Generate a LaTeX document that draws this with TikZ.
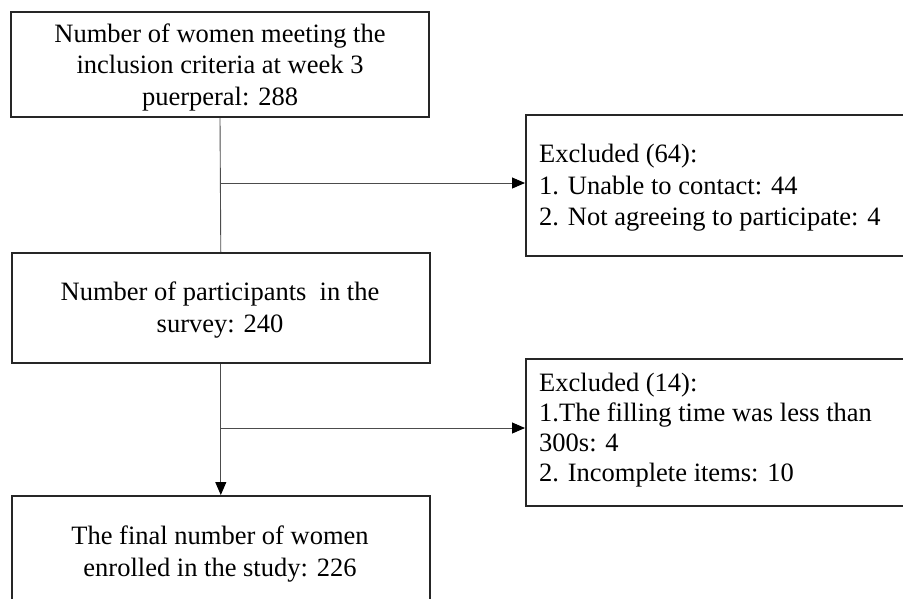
\documentclass[tikz,border=0pt]{standalone}
\usepackage{fontspec}
\setmainfont{Liberation Serif}
\usetikzlibrary{arrows.meta}
\begin{document}
\begin{tikzpicture}[x=1pt,y=-1pt,
  box/.style={draw=black!85,line width=1.6pt,rectangle,inner sep=0pt},
  txt/.style={inner sep=0pt,font=\fontsize{26.5}{31.5}\selectfont},
  conn/.style={draw=black!70,line width=0.9pt},
  arr/.style={conn,-{Triangle[length=13pt,width=11pt,fill=black,color=black]}}]
\useasboundingbox (0,0) rectangle (903,598);
% boxes
\node[box,minimum width=418pt,minimum height=105pt] (b1) at (220,64.5) {};
\node[box,minimum width=405pt,minimum height=141pt,anchor=north west] (b2) at (525,114) {};
\node[box,minimum width=418pt,minimum height=110pt,anchor=north west] (b3) at (11,252) {};
\node[box,minimum width=405pt,minimum height=147pt,anchor=north west] (b4) at (525,358) {};
\node[box,minimum width=418pt,minimum height=145pt,anchor=north west] (b5) at (11,495) {};
% texts
\node[txt,align=center] (t1) at (220,67) {Number of women meeting the\\inclusion criteria at week 3\\puerperal: 288};
\node[txt,align=center] (t3) at (220,310) {Number of participants \ in the\\survey: 240};
\node[txt,align=center] (t5) at (220,554) {The final number of women\\enrolled in the study: 226};
\node[txt,align=left,anchor=west] (t2) at (539,188) {Excluded (64):\\1. Unable to contact: 44\\2. Not agreeing to participate: 4};
\node[txt,align=left,anchor=west,font=\fontsize{26.5}{30}\selectfont] (t4) at (539,430) {Excluded (14):\\1.The filling time was less than\\300s: 4\\2. Incomplete items: 10};
% connectors
\coordinate (j1) at (220,183);
\coordinate (j2) at (220,428);
\draw[conn] (b1.south) -- (b3.north);
\draw[arr] (j1) -- (j1 -| b2.west);
\draw[arr] (b3.south) -- (b5.north);
\draw[arr] (j2) -- (j2 -| b4.west);
\end{tikzpicture}
\end{document}
